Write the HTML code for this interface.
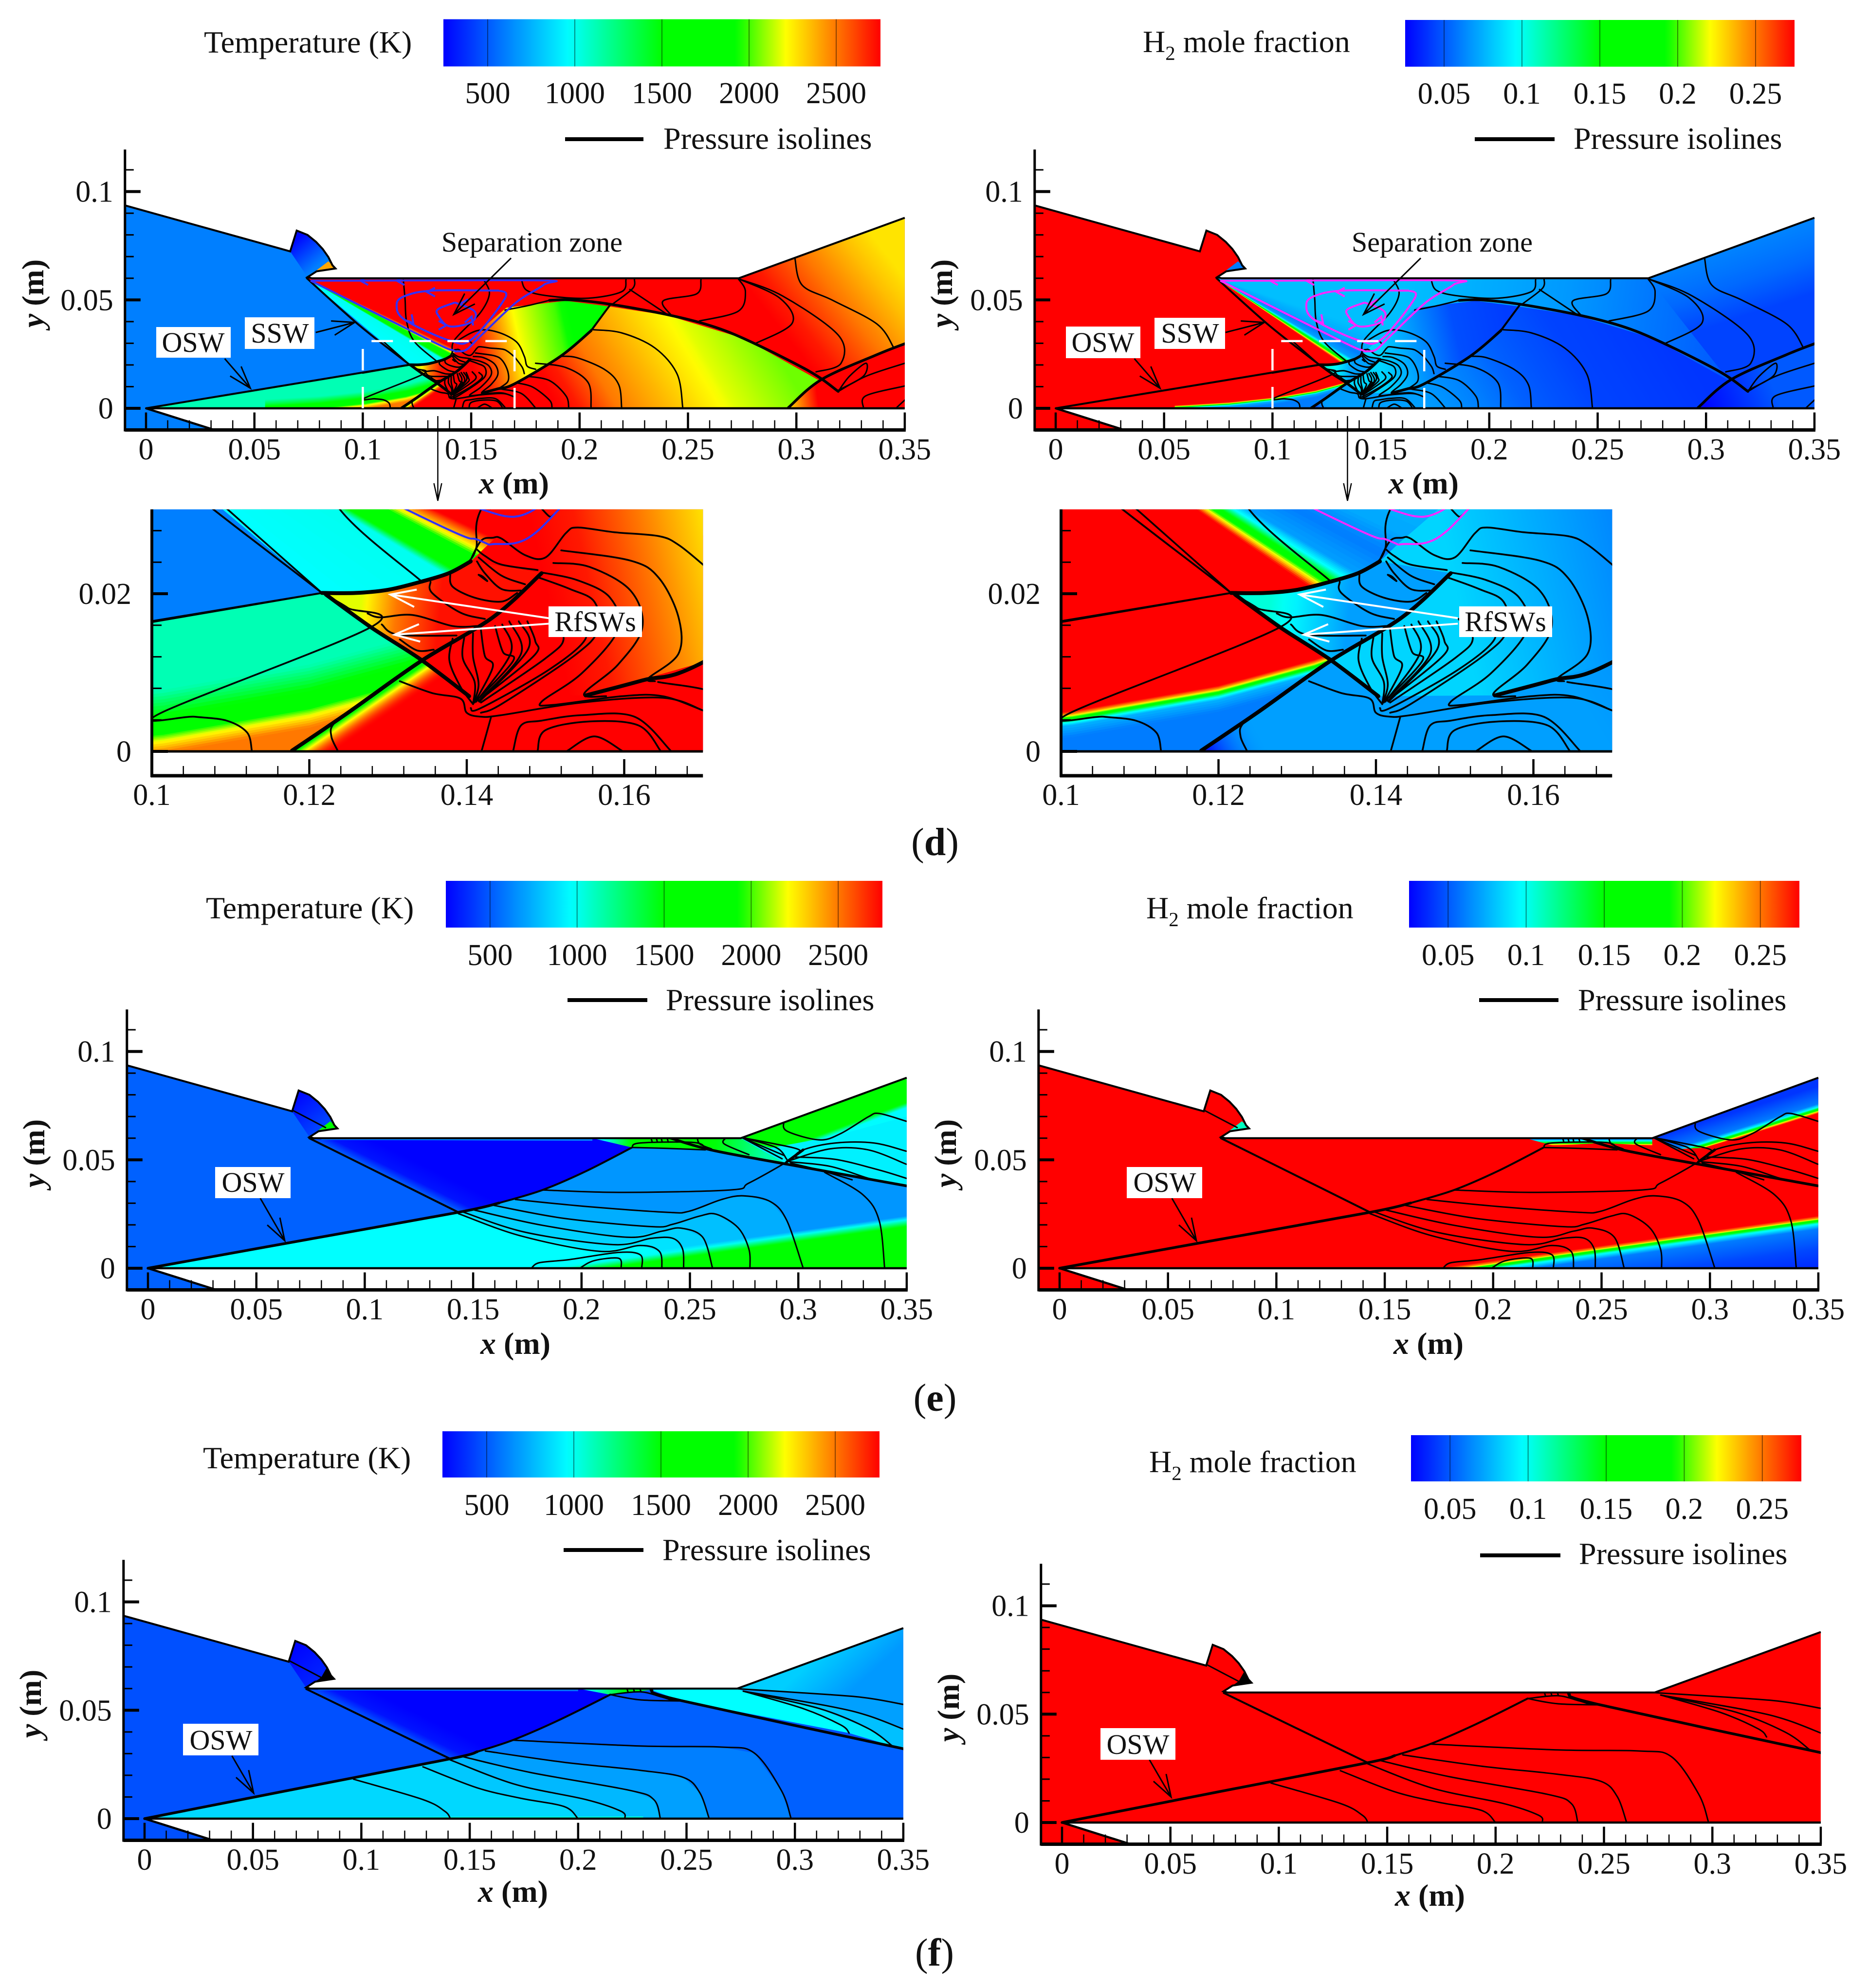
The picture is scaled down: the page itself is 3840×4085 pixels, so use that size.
<!DOCTYPE html>
<html lang="en">
<head>
<meta charset="utf-8">
<title>Temperature and H2 mole fraction contours with pressure isolines</title>
<style>
html,body{margin:0;padding:0;background:#fff;}
svg{display:block;}
text{font-family:"Liberation Serif",serif;font-size:62px;fill:#111;}
.ttl{font-size:64px;}
.ann{font-size:58px;}
.ctr{text-anchor:middle;}
.ax{font-weight:bold;font-size:64px;}
.ax .i{font-style:italic;}
.sub{font-size:41px;}
.cap{font-size:80px;text-anchor:middle;}
.cap .b{font-weight:bold;}
</style>
</head>
<body>
<svg id="chart-root" xmlns="http://www.w3.org/2000/svg" width="3840" height="4085" viewBox="0 0 3840 4085">
<rect x="0" y="0" width="3840" height="4085" fill="#fff"/>
<defs id="gradients"></defs>
<g id="plots"></g>

<g>
<text class="ttl" x="419" y="108">Temperature (K)</text>
<text class="ttl" x="2348" y="107">H<tspan class="sub" dy="16">2</tspan><tspan dy="-16"> mole fraction</tspan></text>
<text class="ttl" x="423" y="1887">Temperature (K)</text>
<text class="ttl" x="2355" y="1887">H<tspan class="sub" dy="16">2</tspan><tspan dy="-16"> mole fraction</tspan></text>
<text class="ttl" x="417" y="3017">Temperature (K)</text>
<text class="ttl" x="2361" y="3025">H<tspan class="sub" dy="16">2</tspan><tspan dy="-16"> mole fraction</tspan></text>

<line x1="1161" y1="286" x2="1322" y2="286" stroke="#000" stroke-width="8"/>
<text class="ttl" x="1363" y="306">Pressure isolines</text>
<line x1="3030" y1="286" x2="3194" y2="286" stroke="#000" stroke-width="8"/>
<text class="ttl" x="3233" y="306">Pressure isolines</text>
<line x1="1166" y1="2055" x2="1330" y2="2055" stroke="#000" stroke-width="8"/>
<text class="ttl" x="1368" y="2076">Pressure isolines</text>
<line x1="3039" y1="2055" x2="3202" y2="2055" stroke="#000" stroke-width="8"/>
<text class="ttl" x="3242" y="2076">Pressure isolines</text>
<line x1="1158" y1="3185" x2="1322" y2="3185" stroke="#000" stroke-width="8"/>
<text class="ttl" x="1361" y="3206">Pressure isolines</text>
<line x1="3041" y1="3196" x2="3206" y2="3196" stroke="#000" stroke-width="8"/>
<text class="ttl" x="3244" y="3214">Pressure isolines</text>
</g>

<g>
<text class="ax ctr" x="1056" y="1014"><tspan class="i">x</tspan> (m)</text>
<text class="ax ctr" x="2925" y="1014"><tspan class="i">x</tspan> (m)</text>
<text class="ax ctr" x="1059" y="2782"><tspan class="i">x</tspan> (m)</text>
<text class="ax ctr" x="2935" y="2782"><tspan class="i">x</tspan> (m)</text>
<text class="ax ctr" x="1054" y="3908"><tspan class="i">x</tspan> (m)</text>
<text class="ax ctr" x="2938" y="3916"><tspan class="i">x</tspan> (m)</text>
<text class="ax ctr" transform="translate(89,603) rotate(-90)"><tspan class="i">y</tspan> (m)</text>
<text class="ax ctr" transform="translate(1956,603) rotate(-90)"><tspan class="i">y</tspan> (m)</text>
<text class="ax ctr" transform="translate(91,2370) rotate(-90)"><tspan class="i">y</tspan> (m)</text>
<text class="ax ctr" transform="translate(1964,2370) rotate(-90)"><tspan class="i">y</tspan> (m)</text>
<text class="ax ctr" transform="translate(84,3501) rotate(-90)"><tspan class="i">y</tspan> (m)</text>
<text class="ax ctr" transform="translate(1970,3509) rotate(-90)"><tspan class="i">y</tspan> (m)</text>
</g>

<g>
<text class="ann ctr" x="1093" y="517">Separation zone</text>
<text class="ann ctr" x="2963" y="517">Separation zone</text>

<rect x="321" y="672" width="153" height="63" fill="#fff"/>
<text class="ann ctr" x="397" y="723">OSW</text>
<rect x="503" y="652" width="143" height="65" fill="#fff"/>
<text class="ann ctr" x="575" y="704">SSW</text>
<rect x="2190" y="671" width="153" height="65" fill="#fff"/>
<text class="ann ctr" x="2266" y="723">OSW</text>
<rect x="2372" y="653" width="145" height="64" fill="#fff"/>
<text class="ann ctr" x="2445" y="704">SSW</text>

<rect x="1127" y="1246" width="192" height="63" fill="#fff"/>
<text class="ann ctr" x="1223" y="1297">RfSWs</text>
<rect x="2998" y="1246" width="191" height="63" fill="#fff"/>
<text class="ann ctr" x="3093" y="1297">RfSWs</text>

<rect x="442" y="2398" width="155" height="64" fill="#fff"/>
<text class="ann ctr" x="520" y="2449">OSW</text>
<rect x="2315" y="2398" width="155" height="64" fill="#fff"/>
<text class="ann ctr" x="2393" y="2449">OSW</text>
<rect x="376" y="3542" width="155" height="65" fill="#fff"/>
<text class="ann ctr" x="454" y="3595">OSW</text>
<rect x="2261" y="3551" width="154" height="65" fill="#fff"/>
<text class="ann ctr" x="2338" y="3604">OSW</text>
</g>

<g>
<text class="cap" x="1921" y="1757">(<tspan class="b">d</tspan>)</text>
<text class="cap" x="1921" y="2899">(<tspan class="b">e</tspan>)</text>
<text class="cap" x="1920" y="4039">(<tspan class="b">f</tspan>)</text>
</g>

<script>
/* ---------- axis tick data ---------- */
const xTickValues = [0, 0.05, 0.1, 0.15, 0.2, 0.25, 0.3, 0.35];
const xTickLabels = ['0', '0.05', '0.1', '0.15', '0.2', '0.25', '0.3', '0.35'];
const yTickValues = [0, 0.05, 0.1];
const yTickLabels = ['0', '0.05', '0.1'];
const insetXTickValues = [0.1, 0.12, 0.14, 0.16];
const insetXTickLabels = ['0.1', '0.12', '0.14', '0.16'];
const insetYTickValues = [0, 0.02];
const insetYTickLabels = ['0', '0.02'];
const tempBarTicks = [500, 1000, 1500, 2000, 2500];
const tempBarLabels = ['500', '1000', '1500', '2000', '2500'];
const h2BarTicks = [0.05, 0.1, 0.15, 0.2, 0.25];
const h2BarLabels = ['0.05', '0.1', '0.15', '0.2', '0.25'];
const tempRange = [246, 2754];
const h2Range = [0.025, 0.275];

/* ---------- geometry (metres) ---------- */
const domainOutline = [[-0.0097,0.0936],[0.0665,0.0724],[0.0695,0.082],[0.0745,0.08],[0.0784,0.0768],[0.0815,0.0735],[0.0841,0.0698],[0.086,0.066],[0.0874,0.0645],[0.0787,0.0632],[0.0745,0.0605],[0.0765,0.06],[0.2734,0.06],[0.35,0.0879],[0.35,0],[0,0],[0.0316,-0.01],[-0.0097,-0.01]];
const bumpShape = [[0.0665,0.0724],[0.0695,0.082],[0.0745,0.08],[0.0784,0.0768],[0.0815,0.0735],[0.0841,0.0698],[0.086,0.066],[0.0874,0.0645],[0.0787,0.0632],[0.0745,0.0605]];
const bumpTip = [[0.0745,0.0605],[0.0787,0.0632],[0.0874,0.0645],[0.086,0.066],[0.0841,0.0678]];

/* case d flow regions */
const dPost = [[0.0742,0.06],[0.2734,0.06],[0.35,0.0879],[0.35,0],[0.1178,0],[0.1341,0.0114],[0.1279,0.0157],[0.1216,0.0201]];
const dBelow = [[0,0],[0.1216,0.0201],[0.1279,0.0157],[0.1341,0.0114],[0.1178,0]];
const dTri = [[0.1216,0.0201],[0.1259,0.0201],[0.13,0.0205],[0.1341,0.0215],[0.1377,0.0226],[0.1405,0.0241],[0.1495,0.0226],[0.1433,0.017],[0.1341,0.0114],[0.1279,0.0157]];
const dArchLeft = [[0.1429,0.0264],[0.1662,0.0464],[0.1937,0.0496],[0.2129,0.0471],[0.2053,0.0358],[0.1912,0.024],[0.17,0.0113],[0.1551,0.0071],[0.1403,0.007],[0.1341,0.0114],[0.1495,0.0226],[0.1405,0.0241]];
const dLow = [[0.1178,0],[0.1341,0.0114],[0.1403,0.007],[0.1551,0.0071],[0.17,0.0113],[0.1912,0.024],[0.2053,0.0358],[0.2129,0.0471],[0.2404,0.0429],[0.2761,0.0321],[0.3104,0.0129],[0.2953,0]];
const dTop = [[0.0742,0.06],[0.2734,0.06],[0.3104,0.0129],[0.2761,0.0321],[0.2404,0.0429],[0.2129,0.0471],[0.1937,0.0496],[0.1662,0.0464],[0.1429,0.0264]];
const dRampZone = [[0.2734,0.06],[0.35,0.0879],[0.35,0.03],[0.3104,0.0129]];
const dTail = [[0.3104,0.0129],[0.35,0.03],[0.35,0],[0.2953,0]];
const dFootEdge = [[0.1178,0],[0.1341,0.0114],[0.1403,0.007],[0.128,0]];
const dFootSpot = [[0.1178,0],[0.1285,0],[0.1255,0.0055]];
const dMixCentre = [[0.055,0.0005],[0.0605,0.0008],[0.08,0.002],[0.1015,0.0043],[0.12,0.0075],[0.1322,0.0108],[0.137,0.0125]];
const fanApex = [0.0742,0.06];

/* temperature and H2 values read from the colour field */
const dFanTemp = [[0.1089,968],[0.1233,1000],[0.1249,1500],[0.1285,1700],[0.1313,2212],[0.1336,2500],[0.1356,2754],[0.16,2754]];
const dFanH2 = [[0.1089,0.275],[0.1171,0.275],[0.1189,0.2],[0.1202,0.15],[0.1217,0.1],[0.1237,0.07],[0.13,0.06],[0.136,0.072],[0.16,0.079]];
const dMixTemp = [[0.0035,1124],[0.0015,1350],[-0.0008,1625],[-0.002,1900],[-0.003,2212],[-0.0045,2500]];
const dMixH2 = [[0.0008,0.275],[0.0004,0.24],[0,0.19],[-0.0002,0.15],[-0.0006,0.1],[-0.001,0.075],[-0.0025,0.06]];

const dTempLayers = [
 {pts:domainOutline,val:607},
 {pts:bumpShape,from:[0.072,0.08],to:[0.082,0.068],stops:[[0,270],[1,607]]},
 {pts:bumpTip,val:2400},
 {pts:dPost,val:2754},
 {fan:dFanTemp},
 {pts:dBelow,val:1124},
 {band:dMixTemp},
 {pts:dLow,from:[0.17,0],to:[0.27,0.06],stops:[[0.15,2754],[0.22,2700],[0.35,2500],[0.6,2300],[0.75,2180],[1,2050]]},
 {pts:dFootEdge,from:[0.1259,0.0055],to:[0.1276,0.003],stops:[[0,1800],[0.3,2212],[1,2754,0]]},
 {pts:dArchLeft,from:[0.148,0.03],to:[0.2078,0.0431],stops:[[0,2754],[0.09,2700],[0.22,2500],[0.39,2212],[0.7,2000],[1,1625]]},
 {pts:dTri,from:[0.1265,0.018],to:[0.1365,0.017],stops:[[0,2180],[0.45,2500],[1,2720]]},
 {pts:dRampZone,from:[0.29,0.04],to:[0.337,0.077],stops:[[0,2754],[0.15,2700],[0.5,2500],[0.8,2350],[1,2270]]},
 {pts:dTail,from:[0.2953,0.001],to:[0.31,0.003],stops:[[0,2250],[1,2754]]}
];
const dH2Layers = [
 {pts:domainOutline,val:0.275},
 {pts:bumpTip,val:0.06},
 {pts:dPost,val:0.06},
 {pts:dTop,from:[0.16,0.05],to:[0.31,0.03],stops:[[0,0.079],[0.5,0.068],[1,0.05]]},
 {fan:dFanH2},
 {pts:dBelow,val:0.275},
 {band:dMixH2},
 {pts:dLow,from:[0.17,0],to:[0.27,0.06],stops:[[0,0.07],[0.22,0.06],[0.35,0.052],[0.6,0.044],[1,0.04]]},
 {pts:dFootSpot,from:[0.1185,0.0003],to:[0.1245,0.0035],stops:[[0,0.03],[1,0.068,0]]},
 {pts:dArchLeft,from:[0.148,0.03],to:[0.2078,0.0431],stops:[[0,0.085],[0.25,0.07],[0.6,0.047],[1,0.042]]},
 {pts:dTri,from:[0.1265,0.018],to:[0.1365,0.017],stops:[[0,0.105],[1,0.07]]},
 {pts:dRampZone,from:[0.33,0.08],to:[0.34,0.05],stops:[[0,0.062],[0.5,0.055],[1,0.044]]},
 {pts:dTail,from:[0.3,0],to:[0.33,0.012],stops:[[0,0.027],[1,0.05]]}
];

/* case d pressure isolines (metres) */
const dIsolines = [
 [[0.1187,0.0593],[0.1195,0.05],[0.1202,0.04],[0.1238,0.0308],[0.1341,0.0217]],
 [[0.1558,0.0593],[0.1584,0.0528],[0.154,0.0438],[0.1425,0.0318],[0.1412,0.0258],[0.1403,0.0241]],
 [[0.1732,0.0593],[0.1758,0.0543],[0.1861,0.0518],[0.204,0.0508],[0.2194,0.0538],[0.2214,0.0593]],
 [[0.1656,0.0453],[0.1758,0.0473],[0.1861,0.0498]],
 [[0.2253,0.0596],[0.2245,0.0553],[0.2155,0.0483]],
 [[0.2232,0.0548],[0.2412,0.0428]],
 [[0.256,0.0593],[0.254,0.0528],[0.2386,0.0496],[0.2424,0.0428]],
 [[0.2732,0.0598],[0.2765,0.0538],[0.2732,0.0448],[0.2553,0.0403]],
 [[0.2732,0.0598],[0.2924,0.0508],[0.2981,0.0393],[0.2809,0.0298]],
 [[0.2732,0.0598],[0.2937,0.0518],[0.3193,0.0338],[0.3206,0.0208],[0.3091,0.0168]],
 [[0.2993,0.0693],[0.3027,0.0568],[0.3168,0.0498],[0.3373,0.0388],[0.345,0.0278]],
 [[0.3193,0.0078],[0.3245,0.0148],[0.3321,0.0208],[0.3309,0.0148],[0.3193,0.0083]],
 [[0.3193,0.0078],[0.3321,0.0148],[0.35,0.0208]],
 [[0.35,0.0103],[0.3321,0.0058],[0.3309,0.0003]],
 [[0.35,0.0038],[0.3462,0.0003]],
 [[0.2053,0.0363],[0.2194,0.0348],[0.2348,0.0278],[0.245,0.0158],[0.2476,0.0003]],
 [[0.1912,0.024],[0.1989,0.0233],[0.2117,0.0178],[0.2181,0.0108],[0.2194,0.0003]],
 [[0.1797,0.0208],[0.1937,0.0188],[0.204,0.0118],[0.2053,0.0003]],
 [[0.1758,0.0148],[0.1861,0.0128],[0.1937,0.0058],[0.195,0.0003]],
 [[0.1707,0.0118],[0.1784,0.0098],[0.1861,0.0038],[0.1873,0.0003]],
 [[0.1643,0.0088],[0.1732,0.0068],[0.1796,0.0003]],
 [[0.143,0.0308],[0.1527,0.0358],[0.1617,0.0353],[0.1707,0.0308],[0.1745,0.024],[0.1758,0.0195],[0.1797,0.018]],
 [[0.1095,0.0308],[0.1216,0.0201]],
 [[0.1216,0.0201],[0.1249,0.0182],[0.1279,0.0158],[0.101,0.0048],[0.1054,0.0044],[0.1095,0.0039],[0.1121,0.0024],[0.1127,0.0001]],
 [[0.17,0.0237],[0.1669,0.0262],[0.1644,0.0273],[0.1587,0.0278],[0.1541,0.0284],[0.1526,0.0277],[0.15,0.0246],[0.1474,0.0249],[0.1444,0.027],[0.1433,0.0271],[0.1418,0.0267],[0.1403,0.0239]],
 [[0.17,0.0237],[0.1735,0.019],[0.1745,0.016]],
 [[0.152,0.0255],[0.1608,0.0242],[0.1644,0.022],[0.1669,0.017],[0.1669,0.0124],[0.1631,0.0093],[0.1639,0.0089]],
 [[0.151,0.0239],[0.1556,0.0234],[0.1608,0.0204],[0.1623,0.0157],[0.1592,0.011],[0.1549,0.0073],[0.1577,0.007]],
 [[0.1495,0.0227],[0.1541,0.0217],[0.1582,0.0195],[0.1592,0.0154],[0.1546,0.0099],[0.1495,0.0063],[0.151,0.0059],[0.1597,0.007],[0.1649,0.007],[0.17,0.0052]],
 [[0.149,0.0221],[0.1531,0.0206],[0.1562,0.019],[0.1567,0.0154],[0.1536,0.0121],[0.1444,0.006],[0.1418,0.0049]],
 [[0.1382,0.0143],[0.1378,0.0115],[0.1392,0.0082],[0.1408,0.006]],
 [[0.1397,0.0146],[0.1395,0.0118],[0.141,0.0088],[0.1408,0.006]],
 [[0.1408,0.015],[0.1408,0.012],[0.1415,0.0085],[0.1408,0.006]],
 [[0.1418,0.0154],[0.1423,0.0121],[0.1433,0.0107],[0.141,0.0062]],
 [[0.1436,0.0159],[0.1446,0.0126],[0.1459,0.0115],[0.1413,0.0065]],
 [[0.1445,0.0161],[0.1456,0.0125],[0.1412,0.0063]],
 [[0.1454,0.0165],[0.1469,0.0124],[0.1418,0.0067]],
 [[0.1466,0.0165],[0.1478,0.013],[0.1416,0.0063]],
 [[0.1477,0.0165],[0.1487,0.014],[0.1485,0.0121],[0.1415,0.0064]],
 [[0.1505,0.0168],[0.1523,0.0143],[0.15,0.0118],[0.1418,0.0062]],
 [[0.1536,0.0165],[0.1551,0.0143],[0.1505,0.0104],[0.1418,0.0055],[0.1405,0.0055]],
 [[0.1413,0.0256],[0.1423,0.0248],[0.1444,0.0237],[0.149,0.023]],
 [[0.1415,0.0246],[0.1444,0.0223],[0.1474,0.0212]],
 [[0.1413,0.0241],[0.1423,0.0226],[0.1444,0.0206],[0.1469,0.0204]],
 [[0.1379,0.0225],[0.1382,0.0209],[0.141,0.0195],[0.1444,0.019],[0.1464,0.0201]],
 [[0.1354,0.0215],[0.1356,0.0201],[0.1392,0.0176],[0.1423,0.0168]],
 [[0.1415,0.0224],[0.1426,0.0216],[0.142,0.0222],[0.1415,0.0224]],
 [[0.1274,0.0175],[0.129,0.017],[0.1331,0.0173],[0.1382,0.0159],[0.1413,0.0159]],
 [[0.1292,0.0161],[0.1313,0.0148],[0.1387,0.0147]],
 [[0.1315,0.0142],[0.1337,0.0128],[0.1358,0.0129]],
 [[0.1315,0.0089],[0.1356,0.0074],[0.1392,0.0067],[0.14,0.0049],[0.1418,0.0044],[0.1444,0.0046],[0.1546,0.0062],[0.1649,0.0068],[0.17,0.0052]],
 [[0.1419,0.0001],[0.1431,0.0044]],
 [[0.1459,0.0001],[0.1469,0.0033],[0.1495,0.0039],[0.1546,0.0046],[0.1613,0.0044],[0.1659,0.0001]],
 [[0.149,0.0001],[0.15,0.0027],[0.1556,0.0038],[0.1618,0.0033],[0.1646,0.0001]],
 [[0.1528,0.0001],[0.1562,0.0019],[0.1597,0.0001]],
 [[0.1236,0.0001],[0.1228,0.0019],[0.1231,0.0035],[0.126,0.0057]],
 [[0.1495,0.0308],[0.1505,0.0298],[0.151,0.03],[0.1518,0.0308]]
];
const dShocks = [
 [[0.1216,0.0201],[0.1259,0.0201],[0.13,0.0205],[0.1341,0.0215],[0.1377,0.0226],[0.1405,0.0241]],
 [[0.1221,0.0199],[0.1279,0.0157],[0.1341,0.0117],[0.1403,0.007]],
 [[0.1495,0.0226],[0.1433,0.017],[0.1341,0.0114],[0.1249,0.0049],[0.1178,0.0001]],
 [[0.1551,0.0071],[0.1623,0.009],[0.17,0.0113],[0.1912,0.024],[0.2053,0.0358]],
 [[0.1861,0.0498],[0.1963,0.05],[0.2143,0.048],[0.2424,0.0428],[0.2629,0.0373],[0.2809,0.0298],[0.3065,0.0168],[0.3193,0.0078]],
 [[0.35,0.0298],[0.3373,0.0248],[0.3116,0.0133],[0.2963,0.0003]]
];
const dFronts = [
 [[0,0],[0.06,0.0099],[0.1216,0.0201]],
 [[0.1,0.0164],[0.1216,0.0201]],
 [[0.0742,0.06],[0.0985,0.0382],[0.1216,0.0201]],
 [[0.2053,0.0358],[0.2143,0.048]]
];
const bubbleOuter = [[0.0759,0.0589],[0.1,0.0589],[0.1825,0.059],[0.1835,0.057],[0.1707,0.0488],[0.1545,0.0335],[0.148,0.0272],[0.1435,0.0263],[0.1415,0.0268],[0.1321,0.0308],[0.0759,0.0589]];
const bubbleMiddle = [[0.163,0.0543],[0.1656,0.0508],[0.1502,0.0318],[0.14,0.0313],[0.1194,0.0408],[0.1156,0.0478],[0.1194,0.0518],[0.1322,0.0543],[0.163,0.0543]];
const bubbleInner = [[0.1425,0.0488],[0.1515,0.0448],[0.1502,0.0398],[0.14,0.0378],[0.1348,0.0428],[0.1348,0.0458],[0.1425,0.0488]];
const bubbleArrowX = [0.0989,0.1156,0.1297,0.1233,0.1386,0.1502,0.145];
const bubbleArrowY = [0.0589,0.0589,0.0536,0.0393,0.0383,0.0423,0.0483];
const bubbleArrowDeg = [180,180,180,-50,0,70,180];

/* case e flow regions and isolines */
const eTri = [[0.0744,0.06],[0.208,0.06],[0.2233,0.0557],[0.2021,0.0448],[0.182,0.0361],[0.162,0.0301],[0.1432,0.0258]];
const eLow = [[0,0],[0.1432,0.0258],[0.162,0.0301],[0.182,0.0361],[0.2021,0.0448],[0.2233,0.0557],[0.2596,0.0546],[0.2947,0.048],[0.35,0.038],[0.35,0]];
const eIso2 = [[0.1695,0.0317],[0.2021,0.0285],[0.2396,0.0258],[0.2496,0.0263],[0.2646,0.0317],[0.2747,0.0334],[0.2872,0.0307],[0.2947,0.022],[0.3022,0.0002]];
const eIso3 = [[0.1595,0.029],[0.192,0.023],[0.2321,0.0192],[0.2421,0.0203],[0.2546,0.0241],[0.2622,0.0249],[0.2722,0.0187],[0.2772,0.0089],[0.2777,0.0002]];
const eIso4 = [[0.1507,0.0268],[0.182,0.0198],[0.2208,0.0143],[0.2371,0.0171],[0.2459,0.0185],[0.2559,0.0143],[0.2604,0.0002]];
const eIso5 = [[0.1457,0.0258],[0.1745,0.0165],[0.2146,0.0109],[0.2321,0.0138],[0.2421,0.0138],[0.2466,0.0089],[0.2471,0.0002]];
const eIso6 = [[0.1432,0.0252],[0.172,0.0149],[0.2083,0.0078],[0.2271,0.0105],[0.2359,0.0078],[0.2371,0.0002]];
const eBottomWedge = [[0.17,0],[0.35,0.0265],[0.35,0]];
const eRampGreen = [[0.2734,0.06],[0.35,0.0879],[0.35,0.07],[0.3147,0.0605],[0.2872,0.0555]];
const eRampLower = [[0.2734,0.06],[0.2872,0.0565],[0.3147,0.0622],[0.35,0.073],[0.35,0.038],[0.2947,0.048]];
const eTopMid = [[0.2233,0.0557],[0.2396,0.06],[0.2734,0.06],[0.2947,0.048],[0.2596,0.0546]];
const eBlueRamp = [[0.2734,0.06],[0.35,0.0879],[0.35,0.0714],[0.297,0.0555],[0.285,0.055]];
const eWallBand = [[0.215,0.06],[0.2278,0.0565],[0.25,0.0578],[0.2734,0.0565],[0.2734,0.06]];
const eHotSpot = [[0.205,0.06],[0.24,0.06],[0.2233,0.0557]];
const eStripe = [[0.08,0.06],[0.205,0.06],[0.205,0.0588],[0.08,0.0592]];

const eTempLayers = [
 {pts:domainOutline,val:520},
 {pts:bumpShape,from:[0.072,0.08],to:[0.082,0.068],stops:[[0,280],[1,430]]},
 {pts:bumpTip,val:1650},
 {pts:eTri,from:[0.11,0.0425],to:[0.1153,0.0532],stops:[[0,520],[0.35,300],[1,250]]},
 {pts:eStripe,val:620},
 {pts:eLow,val:670},
 {iso:eIso2,val:740,close:[[0,0],[0.1432,0.0258]]},
 {iso:eIso3,val:790,close:[[0,0],[0.1432,0.0258]]},
 {iso:eIso4,val:840,close:[[0,0],[0.1432,0.0258]]},
 {iso:eIso5,val:890,close:[[0,0],[0.1432,0.0258]]},
 {iso:eIso6,val:968,close:[[0,0],[0.1432,0.0258]]},
 {pts:eBottomWedge,from:[0.2997,0.01723],to:[0.3038,-0.0125],stops:[[0,968,0],[0.06,1000],[0.14,1400],[0.2,1650],[1,1650]]},
 {pts:eHotSpot,from:[0.21,0.059],to:[0.225,0.0585],stops:[[0,950],[1,1600]]},
 {pts:eTopMid,from:[0.25,0.058],to:[0.285,0.052],stops:[[0,1650],[1,1150]]},
 {pts:eRampLower,val:930},
 {pts:eRampGreen,from:[0.33,0.0665],to:[0.3285,0.0705],stops:[[0,960],[0.6,1550],[1,1650]]}
];
const eH2Layers = [
 {pts:domainOutline,val:0.275},
 {pts:bumpTip,val:0.11},
 {pts:eBottomWedge,from:[0.2997,0.01723],to:[0.3038,-0.0125],stops:[[0,0.275],[0.04,0.24],[0.065,0.19],[0.085,0.15],[0.12,0.1],[0.2,0.06],[0.5,0.045],[1,0.03]]},
 {pts:eWallBand,from:[0.25,0.0565],to:[0.25,0.06],stops:[[0,0.275],[0.2,0.22],[0.4,0.15],[0.65,0.1],[0.9,0.055],[1,0.04]]},
 {pts:eBlueRamp,from:[0.33,0.0652],to:[0.3264,0.0767],stops:[[0,0.275],[0.1,0.2],[0.15,0.16],[0.22,0.1],[0.35,0.06],[1,0.04]]}
];
const eIsolines = [
 [[0.182,0.0361],[0.2171,0.035],[0.2684,0.0361],[0.2772,0.0393],[0.2947,0.0491],[0.3022,0.0546],[0.3172,0.0578],[0.3348,0.0578],[0.3498,0.054]],
 eIso2, eIso3, eIso4, eIso5, eIso6,
 [[0.177,0.0002],[0.1808,0.0026],[0.1945,0.004],[0.2171,0.0073],[0.2271,0.0062],[0.2278,0.0002]],
 [[0.1995,0.0002],[0.2058,0.0035],[0.2171,0.0046],[0.2183,0.0002]],
 [[0.3122,0.0442],[0.3298,0.0339],[0.3373,0.022],[0.3398,0.0002]],
 [[0.2934,0.0679],[0.2947,0.0633],[0.3097,0.0592],[0.3197,0.0622],[0.3322,0.0698],[0.3373,0.0714],[0.3498,0.0678]],
 [[0.2233,0.0557],[0.2396,0.0553],[0.2571,0.0546]],
 [[0.2233,0.0557],[0.2271,0.0578],[0.2521,0.058],[0.2571,0.0551]],
 [[0.2534,0.06],[0.2546,0.0573],[0.26,0.055]],
 [[0.2664,0.06],[0.2659,0.0573],[0.2772,0.0524]],
 [[0.2321,0.06],[0.2326,0.0582]],[[0.2345,0.06],[0.235,0.0582]],[[0.2368,0.06],[0.2372,0.0582]],[[0.2395,0.06],[0.24,0.0582]],[[0.243,0.06],[0.244,0.0582]],
 [[0.2739,0.0603],[0.2897,0.0557],[0.2947,0.0502]],
 [[0.2739,0.0603],[0.2972,0.0557],[0.3012,0.0538]],
 [[0.2739,0.0603],[0.2935,0.052]],
 [[0.2739,0.0603],[0.2925,0.0505]],
 [[0.2955,0.0495],[0.3147,0.0551],[0.3323,0.0546],[0.3498,0.048]],
 [[0.2985,0.0513],[0.3172,0.0502],[0.3373,0.0453],[0.3498,0.0415]],
 [[0.296,0.0491],[0.3147,0.047],[0.3323,0.0415],[0.3423,0.0393]],
 [[0.2965,0.0485],[0.3097,0.0453],[0.3248,0.0408]],
 [[0.0665,0.073],[0.0819,0.0649]]
];
const eShocks = [
 [[0,0],[0.0716,0.0129],[0.1432,0.0258],[0.162,0.0301]],
 [[0.2396,0.0605],[0.2596,0.0546],[0.2947,0.048],[0.3498,0.038]],
 [[0.2947,0.0491],[0.3022,0.0546]]
];
const eFronts = [
 [[0.0744,0.06],[0.1088,0.0429],[0.1432,0.0258]],
 [[0.162,0.0301],[0.182,0.0361],[0.2021,0.0448],[0.2233,0.0557]]
];

/* case f flow regions and isolines */
const fTri = [[0.0746,0.0598],[0.2,0.06],[0.2148,0.0572],[0.191,0.0454],[0.1698,0.0362],[0.1535,0.0309],[0.141,0.0276]];
const fLow = [[0,0],[0.141,0.0276],[0.1535,0.0309],[0.1698,0.0362],[0.191,0.0454],[0.2148,0.0572],[0.2286,0.0548],[0.2474,0.0545],[0.3488,0.0325],[0.35,0.0322],[0.35,0]];
const fIso1 = [[0.1698,0.0362],[0.2286,0.0335],[0.2662,0.033],[0.2812,0.0303],[0.2937,0.0131],[0.2982,0.0002]];
const fIso2 = [[0.1572,0.0312],[0.1935,0.026],[0.2286,0.0223],[0.2486,0.019],[0.2561,0.012],[0.2604,0.0002]];
const fIso3 = [[0.1472,0.0285],[0.1785,0.0212],[0.2236,0.0131],[0.2349,0.0088],[0.2379,0.0002]];
const fIso4 = [[0.141,0.0271],[0.171,0.0158],[0.2036,0.0088],[0.2198,0.0034],[0.2216,0.0002]];
const fIso5 = [[0.1284,0.0239],[0.1535,0.0142],[0.1735,0.0094],[0.1935,0.0056],[0.1998,0.0002]];
const fIso6 = [[0.0964,0.0182],[0.1284,0.0088],[0.1385,0.0034],[0.141,0.0002]];
const fStripe = [[0.01,0],[0.23,0],[0.23,0.001],[0.01,0.0006]];
const fWedge = [[0.2336,0.0594],[0.2734,0.06],[0.2762,0.0588],[0.3037,0.0508],[0.3212,0.0432],[0.325,0.0395],[0.2474,0.0545]];
const fUpperRamp = [[0.2734,0.06],[0.35,0.0879],[0.35,0.0527],[0.3338,0.0556],[0.3162,0.0572],[0.2737,0.0599]];
const fFanA = [[0.2737,0.0599],[0.3162,0.0572],[0.3338,0.0556],[0.35,0.0527],[0.35,0.0413],[0.3338,0.0475],[0.3162,0.0518],[0.2762,0.0588]];
const fFanB = [[0.2762,0.0588],[0.3162,0.0518],[0.3338,0.0475],[0.35,0.0413],[0.35,0.0322],[0.345,0.0335],[0.3338,0.0416],[0.3112,0.0508]];
const fFanC = [[0.2762,0.0588],[0.3112,0.0508],[0.3338,0.0416],[0.345,0.0335],[0.325,0.0395],[0.3212,0.0432],[0.3037,0.0508]];
const fHotSpot = [[0.2,0.06],[0.2336,0.0594],[0.2148,0.0572]];
const fBlackTip = [[0.0841,0.0698],[0.0874,0.0645],[0.0787,0.0632],[0.0815,0.0652]];
const fStreak = [[0.08,0.06],[0.2,0.06],[0.2,0.0588],[0.08,0.0592]];

const fTempLayers = [
 {pts:domainOutline,val:472},
 {pts:bumpShape,from:[0.072,0.08],to:[0.082,0.068],stops:[[0,260],[1,340]]},
 {pts:fBlackTip,black:true},
 {pts:fTri,from:[0.11,0.043],to:[0.1153,0.0537],stops:[[0,472],[0.35,300],[1,250]]},
 {pts:fStreak,val:560},
 {pts:fLow,val:517},
 {iso:fIso1,val:607,close:[[0,0],[0.141,0.0276]]},
 {iso:fIso2,val:700,close:[[0,0],[0.141,0.0276]]},
 {iso:fIso3,val:768,close:[[0,0],[0.141,0.0276]]},
 {iso:fIso4,val:813,close:[[0,0],[0.141,0.0276]]},
 {iso:fIso5,val:858,close:[[0,0],[0.141,0.0276]]},
 {pts:fStripe,val:1050},
 {pts:fHotSpot,from:[0.2,0.059],to:[0.225,0.059],stops:[[0,800],[1,1600]]},
 {pts:fWedge,val:968},
 {pts:fUpperRamp,from:[0.31,0.0745],to:[0.325,0.058],stops:[[0,830],[1,680]]},
 {pts:fFanA,val:700},
 {pts:fFanB,val:790},
 {pts:fFanC,val:900}
];
const fH2Layers = [
 {pts:domainOutline,val:0.275},
 {pts:fBlackTip,black:true}
];
const fIsolines = [
 fIso1, fIso2, fIso3, fIso4, fIso5, fIso6,
 [[0.2148,0.0572],[0.2286,0.0548],[0.2474,0.0543]],
 [[0.2148,0.0572],[0.2286,0.0585],[0.2386,0.0561],[0.2436,0.0545]],
 [[0.2737,0.0599],[0.3162,0.0572],[0.3338,0.0556],[0.35,0.0527]],
 [[0.2762,0.0588],[0.3162,0.0518],[0.3338,0.0475],[0.35,0.0413]],
 [[0.2762,0.0588],[0.3037,0.0508],[0.3212,0.0432],[0.325,0.0395]],
 [[0.2762,0.0588],[0.3112,0.0508],[0.3338,0.0416],[0.345,0.0335]],
 [[0.2225,0.06],[0.223,0.0585]],[[0.2255,0.06],[0.226,0.0585]],[[0.2285,0.06],[0.229,0.0585]],
 [[0.0665,0.073],[0.0819,0.0649]]
];
const fShocks = [
 [[0,0],[0.0703,0.0138],[0.141,0.0276],[0.1535,0.0309]],
 [[0.2336,0.0594],[0.2474,0.0545],[0.3488,0.0325],[0.35,0.0322]]
];
const fFronts = [
 [[0.0746,0.0598],[0.1078,0.0437],[0.141,0.0276]],
 [[0.1535,0.0309],[0.1698,0.0362],[0.191,0.0454],[0.2148,0.0572]]
];

/* callout arrows (metres): from x, from y, to x, to y */
const sepArrow = [0.1684,0.0693,0.142,0.0433];
const sswArrow = [0.0783,0.035,0.0962,0.0396];
const oswArrowD = [0.0363,0.0229,0.0481,0.0093];
const oswArrowE = [0.0518,0.0323,0.0631,0.0127];
const oswArrowF = [0.0403,0.029,0.0503,0.0118];
const rfArrowA = [0.1504,0.0169,0.1303,0.0199];
const rfArrowB = [0.1504,0.0162,0.1308,0.0148];
const zoomBox = [[0.1,0],[0.1,0.031],[0.17,0.031],[0.17,0]];

/* ---------- colour map ---------- */
const cmapPos = [0, 0.288, 0.5, 0.67, 0.784, 1];
const cmapRGB = [[0,0,255],[0,255,255],[0,255,0],[0,255,0],[255,255,0],[255,0,0]];
function cmap(t){
  t = Math.max(0, Math.min(1, t));
  for (let i = 1; i < cmapPos.length; i++) {
    if (t <= cmapPos[i]) {
      const f = (t - cmapPos[i-1]) / (cmapPos[i] - cmapPos[i-1]);
      const a = cmapRGB[i-1], b = cmapRGB[i];
      return 'rgb(' + Math.round(a[0]+(b[0]-a[0])*f) + ',' + Math.round(a[1]+(b[1]-a[1])*f) + ',' + Math.round(a[2]+(b[2]-a[2])*f) + ')';
    }
  }
  return 'rgb(255,0,0)';
}
function valueColor(v, range){ return cmap((v - range[0]) / (range[1] - range[0])); }

/* ---------- svg helpers ---------- */
const NS = 'http://www.w3.org/2000/svg';
const plots = document.getElementById('plots');
const gradientDefs = document.getElementById('gradients');
let uid = 0;
function make(parent, tag, attrs){
  const e = document.createElementNS(NS, tag);
  for (const k in attrs) e.setAttribute(k, attrs[k]);
  parent.appendChild(e);
  return e;
}
function ptsString(pts, ax){
  return pts.map(p => ax.sx(p[0]).toFixed(1) + ',' + ax.sy(p[1]).toFixed(1)).join(' ');
}
function smoothPath(pts, ax){
  const P = pts.map(p => [ax.sx(p[0]), ax.sy(p[1])]);
  let d = 'M' + P[0][0].toFixed(1) + ' ' + P[0][1].toFixed(1);
  for (let i = 0; i < P.length - 1; i++) {
    const p0 = P[Math.max(i-1,0)], p1 = P[i], p2 = P[i+1], p3 = P[Math.min(i+2,P.length-1)];
    const c1x = p1[0] + (p2[0]-p0[0])/6, c1y = p1[1] + (p2[1]-p0[1])/6;
    const c2x = p2[0] - (p3[0]-p1[0])/6, c2y = p2[1] - (p3[1]-p1[1])/6;
    d += 'C' + c1x.toFixed(1) + ' ' + c1y.toFixed(1) + ' ' + c2x.toFixed(1) + ' ' + c2y.toFixed(1) + ' ' + p2[0].toFixed(1) + ' ' + p2[1].toFixed(1);
  }
  return d;
}
function makeGradient(layer, ax, range){
  const id = 'grad' + (uid++);
  const g = make(gradientDefs, 'linearGradient', {id:id, gradientUnits:'userSpaceOnUse',
    x1:ax.sx(layer.from[0]), y1:ax.sy(layer.from[1]), x2:ax.sx(layer.to[0]), y2:ax.sy(layer.to[1])});
  const st = layer.stops;
  for (let i = 0; i < st.length - 1; i++) {
    const a = st[i], b = st[i+1];
    const oa = a[2] === undefined ? 1 : a[2], ob = b[2] === undefined ? 1 : b[2];
    for (let k = 0; k < 6; k++) {
      const f = k / 6;
      make(g, 'stop', {offset:a[0]+(b[0]-a[0])*f, 'stop-color':valueColor(a[1]+(b[1]-a[1])*f, range), 'stop-opacity':oa+(ob-oa)*f});
    }
  }
  const last = st[st.length-1];
  make(g, 'stop', {offset:last[0], 'stop-color':valueColor(last[1], range), 'stop-opacity':last[2] === undefined ? 1 : last[2]});
  return 'url(#' + id + ')';
}
function paintFan(parent, ax, stops, range){
  const k = (0.06 - 0.012) / (0.06 - 0.0308);
  for (let i = 0; i < stops.length - 1; i++) {
    const n = 6;
    for (let j = 0; j < n; j++) {
      const x1 = stops[i][0] + (stops[i+1][0]-stops[i][0])*j/n;
      const x2 = stops[i][0] + (stops[i+1][0]-stops[i][0])*(j+1)/n;
      const v = stops[i][1] + (stops[i+1][1]-stops[i][1])*(j+0.5)/n;
      const tri = [fanApex, [fanApex[0]+(x1-fanApex[0])*k, 0.012], [fanApex[0]+(x2-fanApex[0])*k, 0.012]];
      const c = valueColor(v, range);
      const s = make(parent, 'polygon', {points:ptsString(tri, ax), fill:c, stroke:c, 'stroke-width':0.6});
      
      
    }
  }
}
function paintBand(parent, ax, stops, range){
  const n = 5;
  for (let i = 0; i < stops.length - 1; i++) {
    for (let j = 0; j < n; j++) {
      const o1 = stops[i][0] + (stops[i+1][0]-stops[i][0])*j/n;
      const o2 = stops[i][0] + (stops[i+1][0]-stops[i][0])*(j+1)/n;
      const v = stops[i][1] + (stops[i+1][1]-stops[i][1])*(j+0.5)/n;
      const up = dMixCentre.map(p => [p[0], p[1]+o1]);
      const lo = dMixCentre.map(p => [p[0], p[1]+o2]).reverse();
      const c = valueColor(v, range);
      const s = make(parent, 'polygon', {points:ptsString(up.concat(lo), ax), fill:c, stroke:c, 'stroke-width':0.6});
      
      
    }
  }
  const lastO = stops[stops.length-1][0];
  const bottom = dMixCentre.map(p => [p[0], p[1]+lastO]);
  bottom.push([dMixCentre[dMixCentre.length-1][0], 0]);
  bottom.push([dMixCentre[0][0], 0]);
  const s2 = make(parent, 'polygon', {points:ptsString(bottom, ax), fill:valueColor(stops[stops.length-1][1], range)});
  
  
}
function paintLayers(parent, ax, layers, range){
  layers.forEach(layer => {
    if (layer.fan) { paintFan(parent, ax, layer.fan, range); return; }
    if (layer.band) { paintBand(parent, ax, layer.band, range); return; }
    const pts = layer.iso ? layer.iso.concat(layer.close) : layer.pts;
    const fill = layer.black ? '#000' : (layer.from ? makeGradient(layer, ax, range) : valueColor(layer.val, range));
    const r = make(parent, 'polygon', {points:ptsString(pts, ax), fill:fill});
    
    
  });
}
function drawCurves(parent, ax, lines, width, name){
  lines.forEach(line => {
    const p = make(parent, 'path', {d:smoothPath(line, ax), fill:'none', stroke:'#000', 'stroke-width':width, 'stroke-linejoin':'round', 'stroke-linecap':'round'});
    
    
  });
}
function drawBubble(parent, ax, colour, width){
  [bubbleOuter, bubbleMiddle, bubbleInner].forEach(loop => {
    const p = make(parent, 'path', {d:smoothPath(loop, ax), fill:'none', stroke:colour, 'stroke-width':width});
    
    
  });
  bubbleArrowX.forEach((x, i) => {
    const px = ax.sx(x), py = ax.sy(bubbleArrowY[i]);
    const a = bubbleArrowDeg[i] * Math.PI / 180, L = 16;
    const bx = Math.cos(a), by = -Math.sin(a);
    const d = 'M' + (px - L*bx + 9*by) + ' ' + (py - L*by - 9*bx) + 'L' + px + ' ' + py + 'L' + (px - L*bx - 9*by) + ' ' + (py - L*by + 9*bx);
    const h = make(parent, 'path', {d:d, fill:'none', stroke:colour, 'stroke-width':width});
    
    
  });
}
function drawArrow(parent, x1, y1, x2, y2, colour, width, head, spread){
  const dx = x2-x1, dy = y2-y1, len = Math.hypot(dx, dy), ux = dx/len, uy = dy/len;
  const d = 'M' + x1 + ' ' + y1 + 'L' + x2 + ' ' + y2 +
    'M' + (x2 - head*ux + spread*uy) + ' ' + (y2 - head*uy - spread*ux) + 'L' + x2 + ' ' + y2 +
    'L' + (x2 - head*ux - spread*uy) + ' ' + (y2 - head*uy + spread*ux);
  const a = make(parent, 'path', {d:d, fill:'none', stroke:colour, 'stroke-width':width});
  
  
}
function dataArrow(parent, ax, c, colour, width, head, spread){
  drawArrow(parent, ax.sx(c[0]), ax.sy(c[1]), ax.sx(c[2]), ax.sy(c[3]), colour, width, head, spread);
}

/* ---------- axes ---------- */
function drawMainAxes(parent, x0, y0, ax){
  const left = ax.sx(-0.0097), bottom = ax.sy(-0.01), top = ax.sy(0.1194), right = ax.sx(0.35);
  const yLine = make(parent, 'line', {x1:left, y1:top, x2:left, y2:bottom+3, stroke:'#000', 'stroke-width':5});
  
  
  const xLine = make(parent, 'line', {x1:left, y1:bottom, x2:right+2, y2:bottom, stroke:'#000', 'stroke-width':7});
  
  
  for (let i = 0; i <= 35; i++) {
    const v = i / 100, major = i % 5 === 0;
    const t = make(parent, 'line', {x1:ax.sx(v), y1:bottom, x2:ax.sx(v), y2:bottom-(major?36:20), stroke:'#000', 'stroke-width':major?4.5:2.5});
    
    
  }
  for (let i = 0; i <= 11; i++) {
    const v = i / 100, major = i % 5 === 0;
    const t = make(parent, 'line', {x1:left, y1:ax.sy(v), x2:left+(major?32:18), y2:ax.sy(v), stroke:'#000', 'stroke-width':major?6:3});
    
    
  }
  xTickValues.forEach((v, i) => {
    const l = make(parent, 'text', {x:ax.sx(v), y:y0+105, 'text-anchor':'middle'});
    
    
    l.textContent = xTickLabels[i];
  });
  yTickValues.forEach((v, i) => {
    const l = make(parent, 'text', {x:left-24, y:ax.sy(v)+21, 'text-anchor':'end'});
    
    
    l.textContent = yTickLabels[i];
  });
}
function drawInsetAxes(parent, ax){
  const left = ax.sx(0.1), right = ax.sx(0.17), bottom = ax.sy(0) + 50, top = ax.sy(0.0307);
  const yLine = make(parent, 'line', {x1:left, y1:top, x2:left, y2:bottom+3, stroke:'#000', 'stroke-width':6});
  
  
  const xLine = make(parent, 'line', {x1:left-2, y1:bottom, x2:right, y2:bottom, stroke:'#000', 'stroke-width':7});
  
  
  for (let i = 0; i <= 17; i++) {
    const v = 0.1 + i * 0.004, major = i % 5 === 0;
    const t = make(parent, 'line', {x1:ax.sx(v), y1:bottom, x2:ax.sx(v), y2:bottom-(major?34:20), stroke:'#000', 'stroke-width':major?4.5:2.5});
    
    
  }
  for (let i = 0; i <= 7; i++) {
    const v = i * 0.004, major = i % 5 === 0;
    const t = make(parent, 'line', {x1:left, y1:ax.sy(v), x2:left+(major?33:20), y2:ax.sy(v), stroke:'#000', 'stroke-width':major?6:3});
    
    
  }
  insetXTickValues.forEach((v, i) => {
    const l = make(parent, 'text', {x:ax.sx(v), y:ax.sy(0)+110, 'text-anchor':'middle'});
    
    
    l.textContent = insetXTickLabels[i];
  });
  insetYTickValues.forEach((v, i) => {
    const l = make(parent, 'text', {x:left-42, y:ax.sy(v)+21, 'text-anchor':'end'});
    
    
    l.textContent = insetYTickLabels[i];
  });
}
function drawColorbar(parent, c){
  const id = 'bar' + (uid++);
  const g = make(gradientDefs, 'linearGradient', {id:id, x1:0, y1:0, x2:1, y2:0});
  for (let i = 0; i <= 60; i++) make(g, 'stop', {offset:i/60, 'stop-color':cmap(i/60)});
  const r = make(parent, 'rect', {x:c.x0, y:c.y0, width:c.x1-c.x0, height:c.y1-c.y0, fill:'url(#'+id+')'});
  
  
  c.ticks.forEach((v, i) => {
    const px = c.x0 + (v - c.range[0]) / (c.range[1] - c.range[0]) * (c.x1 - c.x0);
    const t = make(parent, 'line', {x1:px, y1:c.y0, x2:px, y2:c.y1, stroke:'#000', 'stroke-opacity':0.45, 'stroke-width':2});
    
    
    const l = make(parent, 'text', {x:px, y:c.base, 'text-anchor':'middle'});
    
    
    l.textContent = c.labels[i];
  });
}

/* ---------- main panel ---------- */
function drawPanel(cfg){
  const S = 4454;
  const ax = {sx:x => cfg.x0 + x*S, sy:y => cfg.y0 - y*S};
  const g = make(plots, 'g', {});
  
  
  const clipId = 'clip' + (uid++);
  const clip = make(gradientDefs, 'clipPath', {id:clipId});
  make(clip, 'polygon', {points:ptsString(domainOutline, ax)});
  const field = make(g, 'g', {'clip-path':'url(#'+clipId+')'});
  
  
  paintLayers(field, ax, cfg.layers, cfg.range);
  drawCurves(field, ax, cfg.iso, 3, 'iso');
  drawCurves(field, ax, cfg.fronts, 4, 'iso');
  drawCurves(field, ax, cfg.shocks, 5.5, 'shock');
  if (cfg.bubble) drawBubble(field, ax, cfg.bubble, 4);
  const wall = make(g, 'polyline', {points:ptsString(domainOutline.slice(0,14), ax), fill:'none', stroke:'#000', 'stroke-width':4});
  
  
  const floor = make(g, 'polyline', {points:ptsString([[0.35,0],[0,0],[0.0316,-0.01]], ax), fill:'none', stroke:'#000', 'stroke-width':4.5});
  
  
  drawMainAxes(g, cfg.x0, cfg.y0, ax);
  if (cfg.zoomBox) {
    const b = make(g, 'polyline', {points:ptsString(zoomBox, ax), fill:'none', stroke:'#fff', 'stroke-width':4.5, 'stroke-dasharray':'44 34'});
    
    
  }
  cfg.arrows.forEach(c => dataArrow(g, ax, c, '#000', 3, 46, 15));
  if (cfg.callout) drawArrow(g, ax.sx(0.1346), 855, ax.sx(0.1346), 1029, '#000', 2.5, 36, 8);
  drawColorbar(g, cfg.bar);
}
function drawInset(cfg){
  const ax = {sx:x => cfg.left + (x-0.1)*16175, sy:y => 1544 - y*16200};
  const g = make(plots, 'g', {});
  
  
  const clipId = 'clip' + (uid++);
  const clip = make(gradientDefs, 'clipPath', {id:clipId});
  make(clip, 'rect', {x:ax.sx(0.1), y:ax.sy(0.0307), width:ax.sx(0.17)-ax.sx(0.1), height:ax.sy(0)-ax.sy(0.0307)});
  const field = make(g, 'g', {'clip-path':'url(#'+clipId+')'});
  
  
  paintLayers(field, ax, cfg.layers, cfg.range);
  drawCurves(field, ax, dIsolines, 3.6, 'iso');
  drawCurves(field, ax, dFronts, 3.8, 'iso');
  drawCurves(field, ax, dShocks, 8, 'shock');
  drawBubble(field, ax, cfg.bubble, 4);
  const floor = make(g, 'line', {x1:ax.sx(0.1), y1:ax.sy(0), x2:ax.sx(0.17), y2:ax.sy(0), stroke:'#000', 'stroke-width':5});
  
  
  drawInsetAxes(g, ax);
  dataArrow(g, ax, rfArrowA, '#fff', 4, 52, 18);
  dataArrow(g, ax, rfArrowB, '#fff', 4, 52, 18);
}

const tempBar = (x0, x1, y0, y1, base) => ({x0, x1, y0, y1, base, range:tempRange, ticks:tempBarTicks, labels:tempBarLabels});
const h2Bar = (x0, x1, y0, y1, base) => ({x0, x1, y0, y1, base, range:h2Range, ticks:h2BarTicks, labels:h2BarLabels});

drawPanel({x0:300, y0:839, layers:dTempLayers, range:tempRange, iso:dIsolines, fronts:dFronts, shocks:dShocks, bubble:'#3232ff', zoomBox:true, callout:true,
  arrows:[sepArrow, sswArrow, oswArrowD], bar:tempBar(911,1809,39.5,136.5,212)});
drawPanel({x0:2169, y0:839, layers:dH2Layers, range:h2Range, iso:dIsolines, fronts:dFronts, shocks:dShocks, bubble:'#ff28ff', zoomBox:true, callout:true,
  arrows:[sepArrow, sswArrow, oswArrowD], bar:h2Bar(2887,3687,41,137,213)});
drawInset({left:312, layers:dTempLayers, range:tempRange, bubble:'#3232ff'});
drawInset({left:2180, layers:dH2Layers, range:h2Range, bubble:'#ff28ff'});
drawPanel({x0:304, y0:2606, layers:eTempLayers, range:tempRange, iso:eIsolines, fronts:eFronts, shocks:eShocks,
  arrows:[oswArrowE], bar:tempBar(916,1813,1810,1906,1983)});
drawPanel({x0:2177, y0:2606, layers:eH2Layers, range:h2Range, iso:eIsolines, fronts:eFronts, shocks:eShocks,
  arrows:[oswArrowE], bar:h2Bar(2895,3697,1810,1906,1983)});
drawPanel({x0:297, y0:3737, layers:fTempLayers, range:tempRange, iso:fIsolines, fronts:fFronts, shocks:fShocks,
  arrows:[oswArrowF], bar:tempBar(909,1807,2941,3036,3113)});
drawPanel({x0:2182, y0:3745, layers:fH2Layers, range:h2Range, iso:fIsolines, fronts:fFronts, shocks:fShocks,
  arrows:[oswArrowF], bar:h2Bar(2899,3701,2949,3044,3121)});
</script>
</svg>
</body>
</html>
